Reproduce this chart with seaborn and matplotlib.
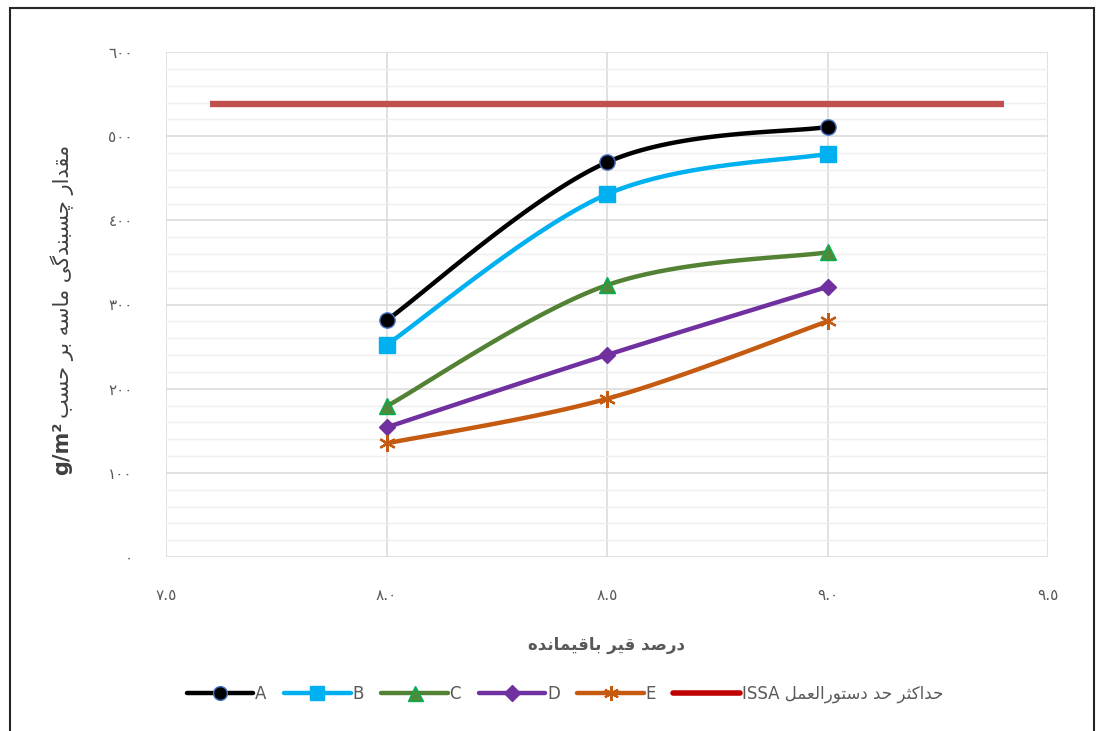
import numpy as np
import pandas as pd
import matplotlib
matplotlib.use("Agg")
import matplotlib.pyplot as plt
from matplotlib.lines import Line2D
from matplotlib.patches import Rectangle
import seaborn as sns

# ---- data -------------------------------------------------------------
bitumen_pct = [8.0, 8.5, 9.0]
series_A = [281, 469, 511]
series_B = [252, 431, 479]
series_C = [179, 323, 362]
series_D = [154, 240, 321]
series_E = [135, 188, 280]
issa_x = [7.6, 9.4]
issa_limit = [538, 538]

x_ticks = [7.5, 8.0, 8.5, 9.0, 9.5]
x_tick_labels = ["٧.٥", "٨.٠", "٨.٥", "٩.٠", "٩.٥"]
y_ticks = [0, 100, 200, 300, 400, 500, 600]
y_tick_labels = ["٠", "١٠٠", "٢٠٠", "٣٠٠", "٤٠٠", "٥٠٠", "٦٠٠"]

# ---- simple Arabic-script shaping (contextual forms + visual order) ---
FORMS = {
    'ا': ('\uFE8D', '\uFE8E', None, None),
    'د': ('\uFEA9', '\uFEAA', None, None),
    'ر': ('\uFEAD', '\uFEAE', None, None),
    'و': ('\uFEED', '\uFEEE', None, None),
    'ب': ('\uFE8F', '\uFE90', '\uFE91', '\uFE92'),
    'ت': ('\uFE95', '\uFE96', '\uFE97', '\uFE98'),
    'ث': ('\uFE99', '\uFE9A', '\uFE9B', '\uFE9C'),
    'ح': ('\uFEA1', '\uFEA2', '\uFEA3', '\uFEA4'),
    'س': ('\uFEB1', '\uFEB2', '\uFEB3', '\uFEB4'),
    'ص': ('\uFEB9', '\uFEBA', '\uFEBB', '\uFEBC'),
    'ع': ('\uFEC9', '\uFECA', '\uFECB', '\uFECC'),
    'ق': ('\uFED5', '\uFED6', '\uFED7', '\uFED8'),
    'ل': ('\uFEDD', '\uFEDE', '\uFEDF', '\uFEE0'),
    'م': ('\uFEE1', '\uFEE2', '\uFEE3', '\uFEE4'),
    'ن': ('\uFEE5', '\uFEE6', '\uFEE7', '\uFEE8'),
    'ه': ('\uFEE9', '\uFEEA', '\uFEEB', '\uFEEC'),
    'چ': ('\uFB7A', '\uFB7B', '\uFB7C', '\uFB7D'),
    'گ': ('\uFB92', '\uFB93', '\uFB94', '\uFB95'),
    'ک': ('\uFB8E', '\uFB8F', '\uFB90', '\uFB91'),
    'ی': ('\uFBFC', '\uFBFD', '\uFBFE', '\uFBFF'),
}


def rtl(text):
    out = []
    n = len(text)
    for i, ch in enumerate(text):
        if ch not in FORMS:
            out.append(ch)
            continue
        iso, fin, ini, med = FORMS[ch]
        prev = text[i - 1] if i > 0 else ''
        nxt = text[i + 1] if i + 1 < n else ''
        join_prev = prev in FORMS and FORMS[prev][2] is not None
        join_next = ini is not None and nxt in FORMS
        if join_prev and join_next:
            out.append(med)
        elif join_prev:
            out.append(fin)
        elif join_next:
            out.append(ini)
        else:
            out.append(iso)
    return ''.join(reversed(out))


def smooth(xs, ys, n=60):
    """Cubic Hermite curve through the points (spreadsheet-style smoothing)."""
    xs = np.asarray(xs, float)
    ys = np.asarray(ys, float)
    k = len(xs)
    mx = np.zeros(k)
    my = np.zeros(k)
    for i in range(k):
        if i == 0:
            mx[i], my[i] = (xs[1] - xs[0]) * 0.5, (ys[1] - ys[0]) * 0.5
        elif i == k - 1:
            mx[i], my[i] = (xs[-1] - xs[-2]) * 0.5, (ys[-1] - ys[-2]) * 0.5
        else:
            mx[i], my[i] = (xs[i + 1] - xs[i - 1]) * 0.5, (ys[i + 1] - ys[i - 1]) * 0.5
    px, py = [], []
    t = np.linspace(0, 1, n)
    h00 = 2 * t**3 - 3 * t**2 + 1
    h10 = t**3 - 2 * t**2 + t
    h01 = -2 * t**3 + 3 * t**2
    h11 = t**3 - t**2
    for i in range(k - 1):
        px.append(h00 * xs[i] + h10 * mx[i] + h01 * xs[i + 1] + h11 * mx[i + 1])
        py.append(h00 * ys[i] + h10 * my[i] + h01 * ys[i + 1] + h11 * my[i + 1])
    return np.concatenate(px), np.concatenate(py)


# ---- styling ----------------------------------------------------------
sns.set_theme(style="white")
plt.rcParams['font.family'] = ['DejaVu Sans']

FONT_TXT = ['DejaVu Sans']
GREY = "#595959"

fig = plt.figure(figsize=(11.0, 7.31), dpi=100)
ax = fig.add_axes([166 / 1100, 1 - 557 / 731, (1048 - 166) / 1100, (557 - 52) / 731])

series = [
    ("A", series_A, "#000000", "o", "#000000", "#4472c4", 11),
    ("B", series_B, "#00b0f0", "s", "#00b0f0", "#00b0f0", 11),
    ("C", series_C, "#548235", "^", "#4e8a3a", "#00b050", 12),
    ("D", series_D, "#7030a0", "D", "#7030a0", "#7030a0", 8.5),
    ("E", series_E, "#c55a11", (6, 2, 0), "#c55a11", "#c55a11", 12),
]

# ISSA limit line
sns.lineplot(x=issa_x, y=issa_limit, ax=ax, color="#c0504d", linewidth=4.6,
             zorder=3, solid_capstyle="butt")

for name, vals, col, mk, mfc, mec, ms in series:
    cx, cy = smooth(bitumen_pct, vals)
    sns.lineplot(x=cx, y=cy, sort=False, ax=ax, color=col, linewidth=3.2,
                 zorder=4, solid_capstyle="round")
    df = pd.DataFrame({"x": bitumen_pct, "y": vals})
    ax.plot(df["x"], df["y"], linestyle="none", marker=mk, markersize=ms,
            markerfacecolor=mfc, markeredgecolor=mec,
            markeredgewidth=1.6 if mk == (6, 2, 0) else 1.0, zorder=5)

ax.set_xlim(7.5, 9.5)
ax.set_ylim(0, 600)
ax.set_xticks(x_ticks)
ax.set_xticklabels(x_tick_labels)
ax.set_yticks(y_ticks)
ax.set_yticklabels(y_tick_labels)
ax.set_yticks(np.arange(0, 601, 20), minor=True)
ax.grid(which="major", axis="both", color="#d9d9d9", linewidth=1.1)
ax.grid(which="minor", axis="y", color="#efefef", linewidth=1.0)
ax.set_axisbelow(True)
for s in ax.spines.values():
    s.set_visible(False)
ax.tick_params(axis="both", which="both", length=0, colors=GREY, labelsize=11)
ax.tick_params(axis="x", pad=22)
ax.tick_params(axis="y", pad=24)
ax.set_xlabel("")
ax.set_ylabel("")

# axis titles
fig.text(607 / 1100, 1 - 645 / 731, rtl("درصد قیر باقیمانده"), ha="center",
         va="center", fontsize=12, fontweight="bold", color=GREY, family=FONT_TXT)
fig.text(62 / 1100, 1 - 418 / 731, rtl("مقدار چسبندگی ماسه بر حسب"), rotation=90,
         ha="center", va="bottom", fontsize=15, color="#404040", family=FONT_TXT)
fig.text(62 / 1100, 1 - 422 / 731, "g/m²", rotation=90, ha="center", va="top",
         fontsize=15, fontweight="bold", color="#404040", family=FONT_TXT)

# legend
handles = []
labels = []
for name, vals, col, mk, mfc, mec, ms in series:
    handles.append(Line2D([0], [0], color=col, linewidth=3.2, marker=mk,
                          markersize=ms * 0.9, markerfacecolor=mfc, markeredgecolor=mec,
                          markeredgewidth=1.6 if mk == (6, 2, 0) else 1.0))
    labels.append(name)
handles.append(Line2D([0], [0], color="#c00000", linewidth=4.0))
labels.append("ISSA " + rtl("حداکثر حد دستورالعمل"))
fig.legend(handles, labels, loc="center", bbox_to_anchor=(565 / 1100, 1 - 694 / 731),
           ncol=6, frameon=False, handlelength=4.0, handletextpad=0.1,
           columnspacing=1.05, prop={"family": FONT_TXT, "size": 12},
           labelcolor=GREY)

# outer frame
fig.add_artist(Rectangle((10 / 1100, -0.02), 1084 / 1100, 1 - 8 / 731 + 0.02,
                         transform=fig.transFigure, fill=False,
                         edgecolor="#262626", linewidth=1.5))

fig.savefig("out.png", dpi=100)
